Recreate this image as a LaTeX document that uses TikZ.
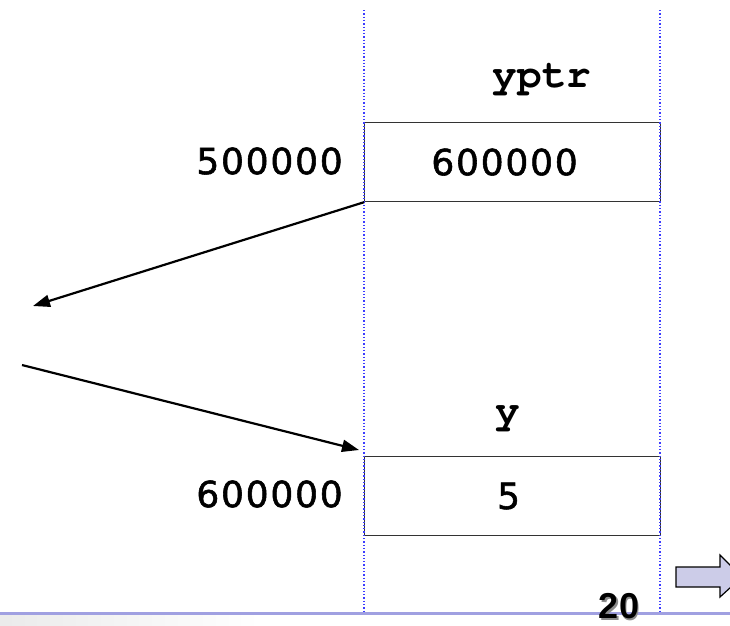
\documentclass[tikz,border=0pt]{standalone}
\usepackage{fontspec}
\setmainfont{DejaVu Sans}
\newfontfamily\codefont{TeX Gyre Cursor}
\newfontfamily\numfont[LetterSpace=5,FakeBold=1.5]{DejaVu Sans}
\newfontfamily\slidefont{Liberation Sans}
\usetikzlibrary{arrows.meta}
\definecolor{dotblue}{RGB}{60,60,255}
\definecolor{barblue}{RGB}{160,160,225}
\definecolor{arrowfill}{RGB}{204,204,232}
\tikzset{
  cell/.style={draw=black!80, line width=1.2pt, minimum width=296pt, minimum height=79pt, inner sep=0pt, anchor=north west},
  varname/.style={font=\codefont\bfseries\fontsize{41}{41}\selectfont, inner sep=0pt},
  numtxt/.style={font=\numfont\fontsize{36}{36}\selectfont, inner sep=0pt},
  guide/.style={dotblue, line width=1.3pt, dotted},
  ptr/.style={black, line width=2.2pt, -{Triangle[length=17pt,width=12pt]}}
}
\begin{document}
\begin{tikzpicture}[x=1pt,y=-1pt]
\clip (0,0) rectangle (730,625);
\fill[white] (0,0) rectangle (730,625);
% bottom bar
\shade[left color=black!8, right color=white] (0,615) rectangle (260,625);
\draw[barblue, line width=3pt] (0,613.5) -- (730,613.5);
% boxes
\node[cell] (box1) at (364,122) {};
\node[cell] (box2) at (364,456) {};
\node[numtxt] (v1) at ([xshift=-8pt]box1.center) {600000};
\node[numtxt] (v2) at ([xshift=-4pt]box2.center) {5};
\node[numtxt, anchor=east] (a1) at (343,161) {500000};
\node[numtxt, anchor=east] (a2) at (343,494) {600000};
\node[varname] (n1) at (542,80) {yptr};
\node[varname] (n2) at (508,419) {y};
% guides
\draw[guide] (364,10) -- (364,612);
\draw[guide] (660,10) -- (660,612);
% pointers
\coordinate (t1) at (33,306);
\coordinate (s2) at (22,365);
\coordinate (t2) at (359,450);
\draw[ptr] (box1.south west) -- (t1);
\draw[ptr] (s2) -- (t2);
% page number
\node[font=\slidefont\bfseries\fontsize{36}{36}\selectfont, text=black!45, inner sep=0pt] (pgs) at (620.5,608) {20};
\node[font=\slidefont\bfseries\fontsize{36}{36}\selectfont, text=black, inner sep=0pt] (pg) at (619,606.5) {20};
% next arrow
\draw[black, line width=1.2pt, fill=arrowfill] (676,567) -- (720,567) -- (720,555) -- (742,577) -- (720,597) -- (720,587) -- (676,587) -- cycle;
\end{tikzpicture}
\end{document}
